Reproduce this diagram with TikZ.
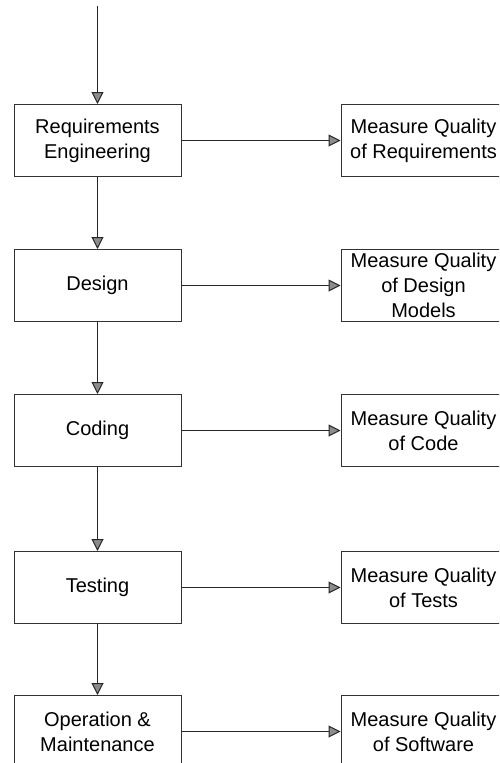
\documentclass[tikz,border=0pt]{standalone}
\usepackage{fontspec}
\setmainfont{Liberation Sans}
\usetikzlibrary{positioning,arrows.meta}
\tikzset{
  box/.style={draw=black!80, line width=1pt, align=center, minimum height=72pt, font=\fontsize{20}{25}\selectfont},
  phasebox/.style={box, minimum width=167pt},
  measurebox/.style={box, minimum width=165pt},
  arr/.style={-{Triangle[length=12pt, width=12pt, fill=black!45]}, line width=1pt, draw=black!85},
}

\begin{document}
\begin{tikzpicture}[x=1pt, y=1pt, node distance=72pt and 159pt]
  \clip (0,0) rectangle (499,-763);
  \coordinate (start) at (97.5,-6);
  % phases of the process
  \node[phasebox] (req) at (97.5,-140.5) {Requirements\\Engineering};
  \node[phasebox, below=of req] (des) {Design};
  \node[phasebox, below=of des] (cod) {Coding};
  \node[phasebox, below=84pt of cod] (tst) {Testing};
  \node[phasebox, below=71pt of tst] (ops) {Operation \&\\Maintenance};
  % quality measurement per phase
  \node[measurebox, right=of req] (mreq) {Measure Quality\\of Requirements};
  \node[measurebox, inner ysep=0pt, right=of des] (mdes) {Measure Quality\\of Design\\Models};
  \node[measurebox, right=of cod] (mcod) {Measure Quality\\of Code};
  \node[measurebox, right=of tst] (mtst) {Measure Quality\\of Tests};
  \node[measurebox, right=of ops] (mops) {Measure Quality\\of Software};
  \draw[arr] (start) -- (req);
  \foreach \a/\b in {req/des,des/cod,cod/tst,tst/ops} \draw[arr] (\a) -- (\b);
  \foreach \a in {req,des,cod,tst,ops} \draw[arr] (\a) -- (m\a);
\end{tikzpicture}
\end{document}
